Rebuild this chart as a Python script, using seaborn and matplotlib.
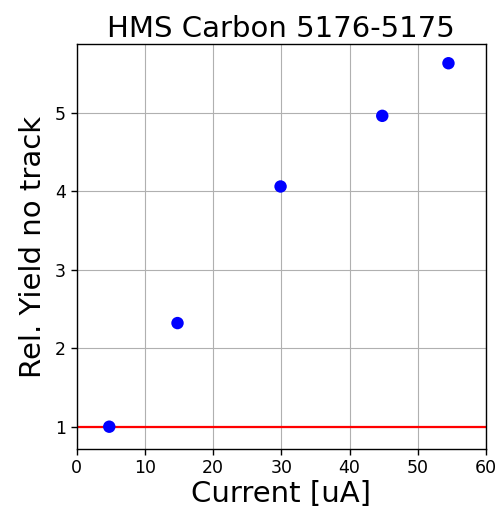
import matplotlib
matplotlib.use("Agg")
import matplotlib.pyplot as plt
import seaborn as sns
import pandas as pd

current = [4.8, 14.8, 29.9, 44.8, 54.5]
rel_yield = [1.0, 2.32, 4.06, 4.96, 5.63]
xticks = [0, 10, 20, 30, 40, 50, 60]
yticks = [1, 2, 3, 4, 5]

sns.set_style("ticks")
plt.rcParams['font.family'] = ['DejaVu Sans']
plt.rcParams['text.color'] = 'black'
plt.rcParams['axes.labelcolor'] = 'black'

df = pd.DataFrame({"current": current, "yield": rel_yield})

fig = plt.figure(figsize=(4.99, 5.13), dpi=100)
ax = fig.add_axes([76.5/499, 1 - 449/513, (486 - 76.5)/499, (449 - 44)/513])
ax.grid(True, color="#b0b0b0", linewidth=0.8)
ax.set_axisbelow(True)
ax.axhline(1.0, color="red", linewidth=1.6, zorder=2)
sns.scatterplot(data=df, x="current", y="yield", ax=ax, color="blue", s=80,
                edgecolor="none", zorder=3)
ax.set_xlim(0, 60)
ax.set_ylim(0.716, 5.875)
ax.set_xticks(xticks)
ax.set_yticks(yticks)
ax.tick_params(labelsize=12.5, direction="out", length=4, width=1, colors="black")
for s in ax.spines.values():
    s.set_color("black")
    s.set_linewidth(1.0)
ax.set_xlabel("Current [uA]", fontsize=21, color="black", labelpad=2)
ax.set_ylabel("Rel. Yield no track", fontsize=21, color="black", labelpad=6)
ax.set_title("HMS Carbon 5176-5175", fontsize=21, color="black", pad=5)
fig.savefig("out.png", dpi=100)
